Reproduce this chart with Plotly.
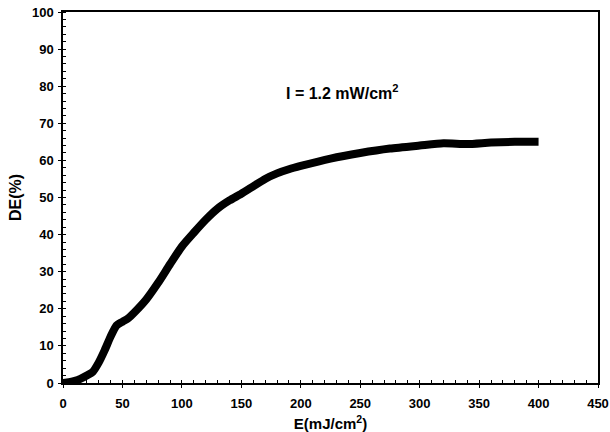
import plotly.graph_objects as go

E = [0, 5, 10, 15, 20, 25, 30, 35, 40, 45, 50, 55, 60, 70, 80, 90, 100, 110, 120, 130, 140,
     150, 160, 170, 180, 190, 200, 225, 250, 275, 300, 320, 340, 360, 380, 400]
DE = [0, 0.2, 0.6, 1.2, 2.0, 3.0, 5.5, 8.8, 12.5, 15.5, 16.5, 17.5, 19.0, 22.5, 27.0, 32.0,
      36.8, 40.5, 44.0, 47.0, 49.2, 51.0, 53.0, 55.0, 56.5, 57.6, 58.5, 60.5, 62.0, 63.2,
      64.0, 64.6, 64.4, 64.8, 65.0, 65.0]

fig = go.Figure()
fig.add_trace(go.Scatter(x=E, y=DE, mode="lines",
                         line=dict(color="black", width=8, shape="spline", smoothing=0.6),
                         showlegend=False))

tf = dict(size=13, family="Liberation Sans, Arial", color="black", weight="bold")
fig.update_layout(
    width=610, height=432,
    margin=dict(l=63, r=12, t=12, b=49),
    plot_bgcolor="white", paper_bgcolor="white",
    font=dict(family="Liberation Sans, Arial", color="black"),
    xaxis=dict(range=[0, 450], tick0=0, dtick=50, showgrid=False, zeroline=False,
               showline=True, linecolor="black", linewidth=1.5, mirror=True,
               ticks="outside", ticklen=3, tickcolor="black", automargin=False,
               ticklabeloverflow="allow", ticklabelstandoff=5,
               minor=dict(dtick=10, ticks="inside", ticklen=3, tickcolor="black"),
               tickfont=tf,
               title=dict(text="<b>E(mJ/cm<sup>2</sup>)</b>", font=dict(size=15), standoff=9)),
    yaxis=dict(range=[0, 100], tick0=0, dtick=10, showgrid=False, zeroline=False,
               showline=True, linecolor="black", linewidth=1.5, mirror=True,
               ticks="outside", ticklen=3, tickcolor="black", automargin=False,
               ticklabeloverflow="allow", ticklabelstandoff=2,
               minor=dict(dtick=2, ticks="inside", ticklen=3, tickcolor="black"),
               tickfont=tf,
               title=dict(text="<b>DE(%)</b>", font=dict(size=16), standoff=6)),
    annotations=[dict(x=235, y=78.4, xref="x", yref="y", showarrow=False,
                      text="<b>I = 1.2 mW/cm<sup>2</sup></b>", font=dict(size=16))],
)
fig.write_html("out.html", config={"displayModeBar": False},
               post_script="document.body.style.margin='0px';document.body.style.overflow='hidden';")
